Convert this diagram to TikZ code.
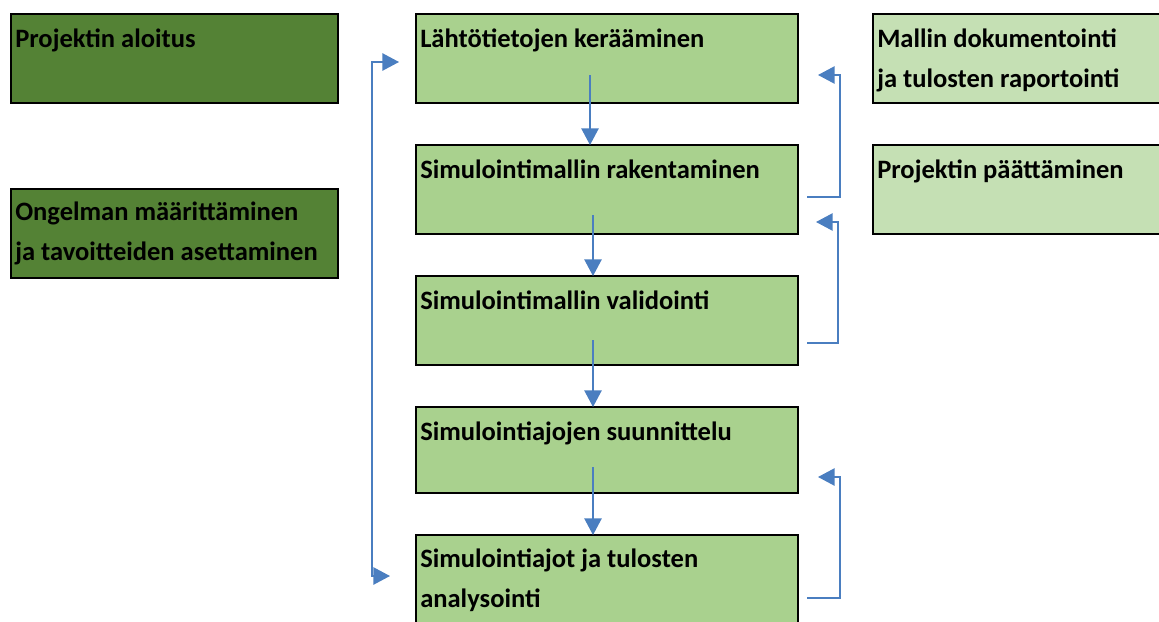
\documentclass[tikz,border=0pt]{standalone}
\usepackage{fontspec}
\setmainfont{Carlito}
\usetikzlibrary{arrows.meta,calc}
\definecolor{dkgreen}{HTML}{548235}
\definecolor{ltgreen}{HTML}{A9D18E}
\definecolor{palegreen}{HTML}{C5E0B4}
\definecolor{arrblue}{HTML}{4A7EC0}
\begin{document}
\begin{tikzpicture}[x=0.75pt,y=-0.75pt,
  box/.style={draw=black, line width=2.1pt, rectangle, inner sep=0pt, outer sep=0pt, anchor=north west},
  darkbox/.style={box, fill=dkgreen, minimum width=245.25pt, minimum height=66.75pt},
  midbox/.style={box, fill=ltgreen, minimum width=286.5pt, minimum height=66.75pt},
  palebox/.style={box, fill=palegreen, minimum width=232.5pt, minimum height=66.75pt},
  lbl/.style={anchor=base west, inner sep=0pt, font=\fontsize{19.9}{30}\selectfont\bfseries},
  arr/.style={draw=arrblue, line width=1.2pt, -{Triangle[length=12.5pt,width=13pt]}},
  arrboth/.style={draw=arrblue, line width=1.2pt, {Triangle[length=12.5pt,width=13pt]}-{Triangle[length=12.5pt,width=13pt]}}]
\clip (0,0) rectangle (1159,621);
\fill[white] (0,0) rectangle (1159,621);
% boxes
\node[darkbox] (b0) at (11,14) {};
\node[darkbox] (g2) at (11,189) {};
\node[midbox] (b1) at (416,14) {};
\node[midbox] (b2) at (416,145) {};
\node[midbox] (b3) at (416,276) {};
\node[midbox, minimum height=64.5pt] (b4) at (416,407) {};
\node[midbox, minimum height=82.5pt] (b5) at (416,535) {};
\node[palebox] (r1) at (873,14) {};
\node[palebox] (r2) at (873,145) {};
% labels
\node[lbl] (t0) at ($(b0.north west)+(4,33)$) {Projektin aloitus};
\node[lbl] (t1) at ($(g2.north west)+(4,31)$) {\vtop{\hbox{Ongelman määrittäminen}\hbox{ja tavoitteiden asettaminen}}};
\node[lbl] (t2) at ($(b1.north west)+(4,33)$) {Lähtötietojen kerääminen};
\node[lbl] (t3) at ($(b2.north west)+(4,33)$) {Simulointimallin rakentaminen};
\node[lbl] (t4) at ($(b3.north west)+(4,33)$) {Simulointimallin validointi};
\node[lbl] (t5) at ($(b4.north west)+(4,33)$) {Simulointiajojen suunnittelu};
\node[lbl] (t6) at ($(b5.north west)+(4,32)$) {\vtop{\hbox{Simulointiajot ja tulosten}\hbox{analysointi}}};
\node[lbl] (t7) at ($(r1.north west)+(4,33)$) {\vtop{\hbox{Mallin dokumentointi}\hbox{ja tulosten raportointi}}};
\node[lbl] (t8) at ($(r2.north west)+(4,33)$) {Projektin päättäminen};
% down arrows
\draw[arr] ($(b1.north west)+(174,61)$) -- ($(b2.north west)+(174,0)$);
\draw[arr] ($(b2.north west)+(177,70)$) -- ($(b3.north west)+(177,0)$);
\draw[arr] ($(b3.north west)+(177,64)$) -- ($(b4.north west)+(177,0)$);
\draw[arr] ($(b4.north west)+(177,60)$) -- ($(b5.north west)+(177,0)$);
% right feedback loops
\draw[arr] ($(b2.north east)+(9,52)$) -| ($(b1.north east)+(42,61)$) -- ($(b1.north east)+(20,61)$);
\draw[arr] ($(b3.north east)+(9,67)$) -| ($(b2.north east)+(40,77)$) -- ($(b2.north east)+(18,77)$);
\draw[arr] ($(b5.north east)+(9,63)$) -| ($(b4.north east)+(42,70)$) -- ($(b4.north east)+(20,70)$);
% left loop
\draw[arrboth] ($(b5.north west)+(-26,41)$) -- ($(b5.north west)+(-44,41)$) -- ($(b1.north west)+(-44,48)$) -- ($(b1.north west)+(-17,48)$);
\end{tikzpicture}
\end{document}
